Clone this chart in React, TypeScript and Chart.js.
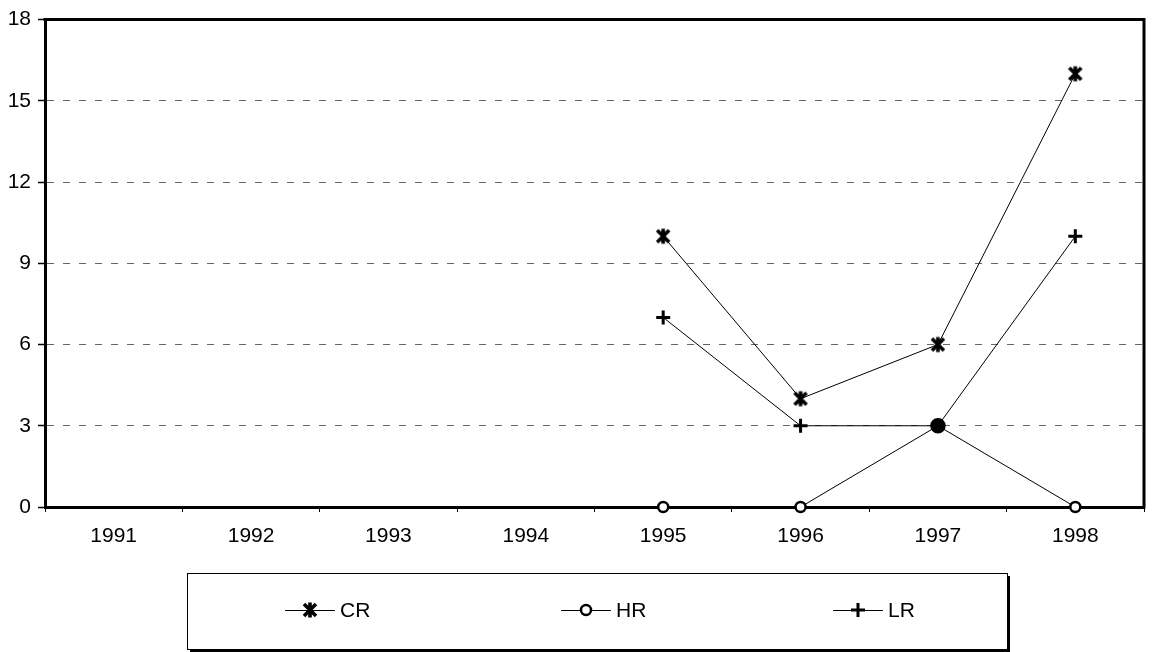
import React, { useEffect, useRef } from "react";
import { Chart, registerables } from "chart.js";

Chart.register(...registerables);

const categories = ["1991", "1992", "1993", "1994", "1995", "1996", "1997", "1998"];
const seriesNames = ["CR", "HR", "LR"];
const crValues = [null, null, null, null, 10, 4, 6, 16];
const hrValues = [null, null, null, null, 0, 0, 3, 0];
const lrValues = [null, null, null, null, 7, 3, 3, 10];
const yTicks = [0, 3, 6, 9, 12, 15, 18];

const FONT = "'Liberation Sans', Arial, sans-serif";

function makeStarCanvas(): HTMLCanvasElement {
  const c = document.createElement("canvas");
  c.width = 20;
  c.height = 20;
  const g = c.getContext("2d")!;
  g.strokeStyle = "#000";
  g.lineWidth = 3.6;
  g.lineCap = "butt";
  g.beginPath();
  g.moveTo(4, 4);
  g.lineTo(16, 16);
  g.moveTo(16, 4);
  g.lineTo(4, 16);
  g.moveTo(10, 2.5);
  g.lineTo(10, 17.5);
  g.stroke();
  return c;
}

function drawMarker(ctx: CanvasRenderingContext2D, kind: number, x: number, y: number, star: HTMLCanvasElement) {
  ctx.save();
  ctx.strokeStyle = "#000";
  if (kind === 0) {
    ctx.drawImage(star, x - 10, y - 10);
  } else if (kind === 1) {
    ctx.lineWidth = 2.5;
    ctx.fillStyle = "#fff";
    ctx.beginPath();
    ctx.arc(x, y, 5, 0, Math.PI * 2);
    ctx.fill();
    ctx.stroke();
  } else {
    ctx.lineWidth = 3;
    ctx.beginPath();
    ctx.moveTo(x - 7, y);
    ctx.lineTo(x + 7, y);
    ctx.moveTo(x, y - 7);
    ctx.lineTo(x, y + 7);
    ctx.stroke();
  }
  ctx.restore();
}

export default function App() {
  const ref = useRef<HTMLCanvasElement | null>(null);

  useEffect(() => {
    document.body.style.margin = "0";
    const canvas = ref.current;
    if (!canvas) return;
    const star = makeStarCanvas();

    const framePlugin = {
      id: "frameAndLegend",
      beforeDatasetsDraw(chart: any) {
        const { ctx, chartArea } = chart;
        ctx.save();
        ctx.strokeStyle = "#000";
        ctx.lineWidth = 3;
        ctx.beginPath();
        ctx.moveTo(chartArea.left - 1.5, chartArea.top);
        ctx.lineTo(chartArea.right, chartArea.top);
        ctx.lineTo(chartArea.right, chartArea.bottom + 1.5);
        ctx.stroke();
        ctx.restore();
      },
      afterDraw(chart: any) {
        const { ctx } = chart;
        const bx = 187, by = 573, bw = 820, bh = 76;
        ctx.save();
        ctx.fillStyle = "#000";
        ctx.fillRect(bx + 3, by + bh, bw, 3);
        ctx.fillRect(bx + bw, by + 3, 3, bh);
        ctx.strokeStyle = "#000";
        ctx.lineWidth = 1;
        ctx.strokeRect(bx + 0.5, by + 0.5, bw, bh);
        const starts = [285, 561, 833];
        const cy = 610;
        ctx.font = `21px ${FONT}`;
        ctx.textBaseline = "middle";
        ctx.fillStyle = "#000";
        chart.data.datasets.forEach((ds: any, i: number) => {
          const x0 = starts[i];
          ctx.strokeStyle = "#000";
          ctx.lineWidth = 1;
          ctx.beginPath();
          ctx.moveTo(x0, cy + 0.5);
          ctx.lineTo(x0 + 50, cy + 0.5);
          ctx.stroke();
          drawMarker(ctx, i, x0 + 25, cy, star);
          ctx.fillText(ds.label, x0 + 55, cy + 1);
        });
        ctx.restore();
      },
    };

    const chart = new Chart(canvas, {
      type: "line",
      data: {
        labels: categories,
        datasets: [
          {
            label: seriesNames[0],
            data: crValues,
            borderColor: "#000",
            borderWidth: 1,
            pointStyle: star,
            pointRadius: 9,
            clip: false,
          },
          {
            label: seriesNames[1],
            data: hrValues,
            borderColor: "#000",
            borderWidth: 1,
            pointStyle: "circle",
            pointRadius: [5, 5, 5, 5, 5, 5, 6.5, 5],
            pointBorderWidth: 2.5,
            pointBorderColor: "#000",
            pointBackgroundColor: ["#fff", "#fff", "#fff", "#fff", "#fff", "#fff", "#000", "#fff"],
            clip: false,
          },
          {
            label: seriesNames[2],
            data: lrValues,
            borderColor: "#000",
            borderWidth: 1,
            pointStyle: "cross",
            pointRadius: 7,
            pointBorderWidth: 3,
            pointBorderColor: "#000",
            clip: false,
          },
        ],
      },
      options: {
        animation: false,
        responsive: false,
        devicePixelRatio: 1,
        layout: { padding: { top: 19, right: 6, left: 0, bottom: 0 } },
        plugins: {
          legend: { display: false },
          tooltip: { enabled: false },
          title: { display: false },
        },
        scales: {
          x: {
            type: "category",
            offset: true,
            grid: {
              display: true,
              drawOnChartArea: false,
              drawTicks: true,
              tickLength: 5,
              offset: true,
              color: "#000",
              tickColor: "#000",
            },
            border: { display: true, width: 3, color: "#000" },
            ticks: {
              color: "#000",
              font: { family: FONT, size: 21 },
              padding: 12,
              maxRotation: 0,
              autoSkip: false,
            },
            afterFit(scale: any) {
              scale.height = 145;
            },
          },
          y: {
            min: 0,
            max: 18,
            afterBuildTicks(scale: any) {
              scale.ticks = yTicks.map((v) => ({ value: v }));
            },
            grid: {
              color: "#666",
              lineWidth: 1,
              drawTicks: true,
              tickLength: 7,
              tickColor: "#000",
              tickWidth: 1.5,
              tickBorderDash: [],
            },
            border: { display: true, width: 3, color: "#000", dash: [7, 9] },
            ticks: {
              color: "#000",
              font: { family: FONT, size: 21 },
              padding: 7,
            },
            afterFit(scale: any) {
              scale.width = 45;
            },
          },
        },
      },
      plugins: [framePlugin],
    });

    return () => chart.destroy();
  }, []);

  return (
    <div style={{ width: 1154, height: 652, background: "#fff" }}>
      <canvas ref={ref} width={1154} height={652} style={{ display: "block" }} />
    </div>
  );
}
